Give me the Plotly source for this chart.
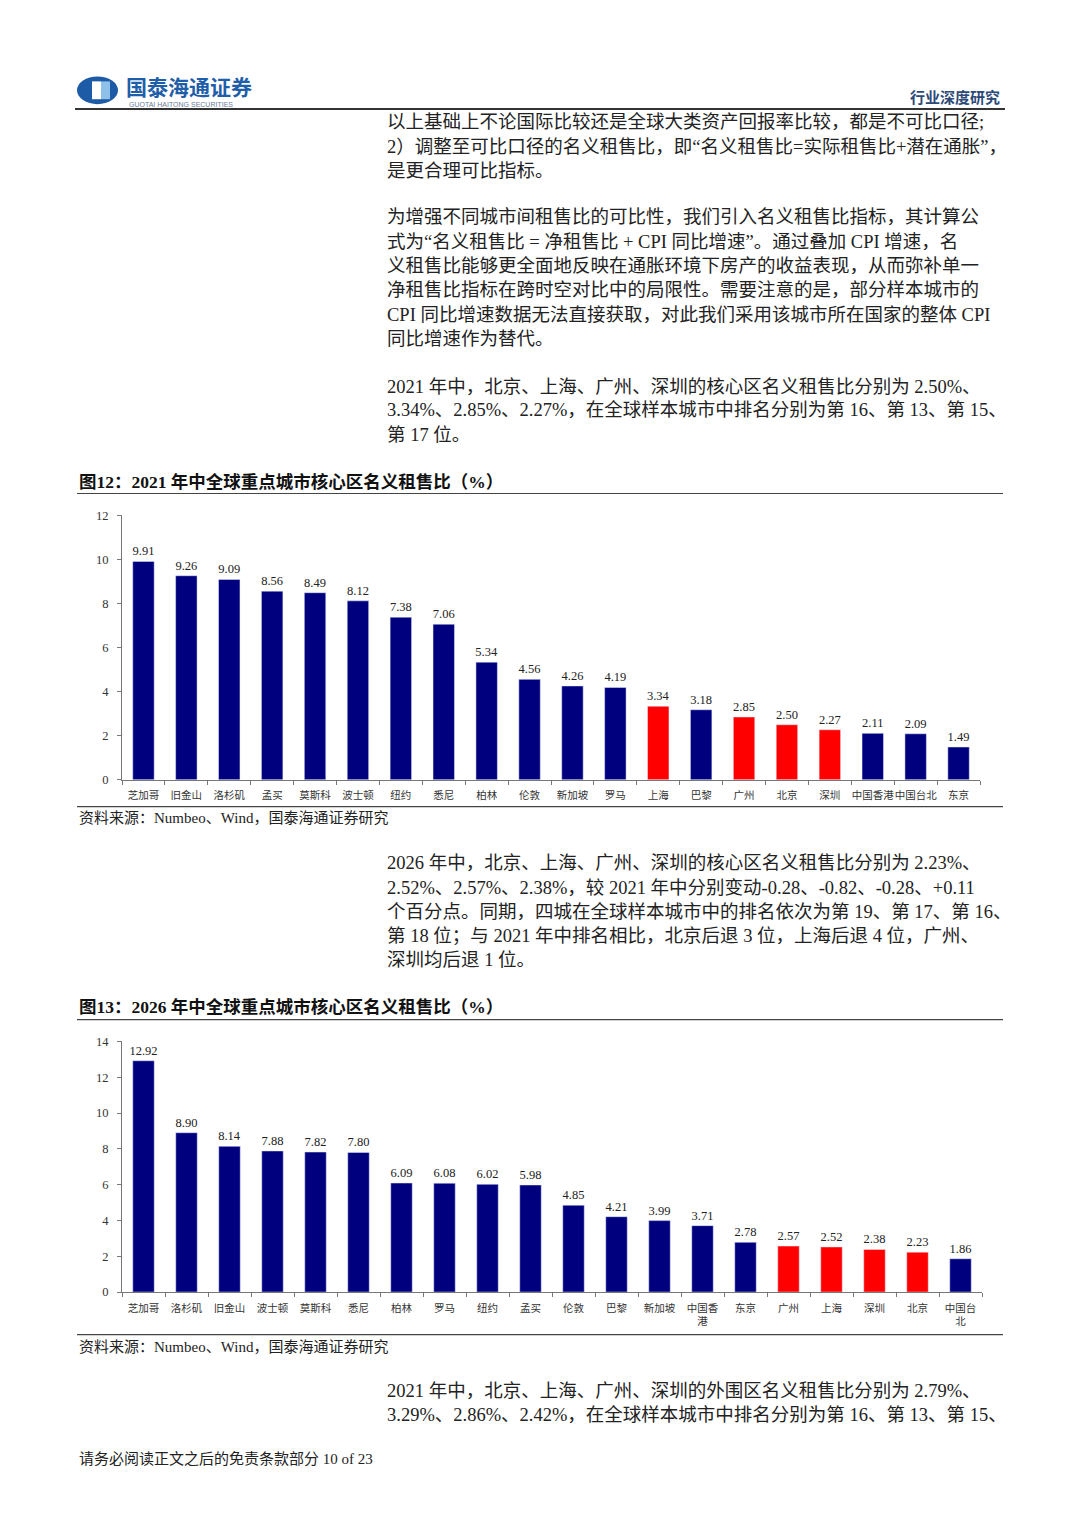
import plotly.graph_objects as go

# 图12: 2021 年中核心区名义租售比
cities_2021 = ["芝加哥", "旧金山", "洛杉矶", "孟买", "莫斯科", "波士顿", "纽约", "悉尼", "柏林", "伦敦",
               "新加坡", "罗马", "上海", "巴黎", "广州", "北京", "深圳", "中国香港", "中国台北", "东京"]
ratio_2021 = [9.91, 9.26, 9.09, 8.56, 8.49, 8.12, 7.38, 7.06, 5.34, 4.56,
              4.26, 4.19, 3.34, 3.18, 2.85, 2.50, 2.27, 2.11, 2.09, 1.49]

# 图13: 2026 年中核心区名义租售比
cities_2026 = ["芝加哥", "洛杉矶", "旧金山", "波士顿", "莫斯科", "悉尼", "柏林", "罗马", "纽约", "孟买",
               "伦敦", "巴黎", "新加坡", "中国香港", "东京", "广州", "上海", "深圳", "北京", "中国台北"]
labels_2026 = ["芝加哥", "洛杉矶", "旧金山", "波士顿", "莫斯科", "悉尼", "柏林", "罗马", "纽约", "孟买",
               "伦敦", "巴黎", "新加坡", "中国香<br>港", "东京", "广州", "上海", "深圳", "北京", "中国台<br>北"]
ratio_2026 = [12.92, 8.90, 8.14, 7.88, 7.82, 7.80, 6.09, 6.08, 6.02, 5.98,
              4.85, 4.21, 3.99, 3.71, 2.78, 2.57, 2.52, 2.38, 2.23, 1.86]

mainland = ["北京", "上海", "广州", "深圳"]
NAVY = "#00007f"
RED = "#ff0000"

# page is 1080x1527, browser body keeps an 8px margin -> figure is a bit smaller
OFF = 8
W, H = 1080 - 2 * OFF, 1527 - 2 * OFF
SERIF = "Liberation Serif, Noto Sans CJK SC"
CJK = "Noto Sans CJK SC, Liberation Serif"


def px(x):
    return (x - OFF) / W


def py(y):
    return 1 - (y - OFF) / H


fig = go.Figure()

fig.add_trace(go.Bar(
    x=cities_2021, y=ratio_2021, width=0.5,
    marker_color=[RED if c in mainland else NAVY for c in cities_2021],
    text=[f"{v:.2f}" for v in ratio_2021], textposition="outside", constraintext="none",
    textfont=dict(family=SERIF, size=12.5, color="#222"),
    cliponaxis=False, xaxis="x", yaxis="y", showlegend=False,
))
fig.add_trace(go.Bar(
    x=cities_2026, y=ratio_2026, width=0.5,
    marker_color=[RED if c in mainland else NAVY for c in cities_2026],
    text=[f"{v:.2f}" for v in ratio_2026], textposition="outside", constraintext="none",
    textfont=dict(family=SERIF, size=12.5, color="#222"),
    cliponaxis=False, xaxis="x2", yaxis="y2", showlegend=False,
))

axis_common = dict(showline=True, linecolor="#777", linewidth=1, ticks="outside",
                   tickcolor="#777", ticklen=4, showgrid=False, zeroline=False,
                   ticklabelstandoff=6)
yfont = dict(family=SERIF, size=12.5, color="#333")
xfont = dict(family=CJK, size=10.5, color="#333")

fig.update_layout(
    width=W, height=H, autosize=False,
    margin=dict(l=0, r=0, t=0, b=0),
    paper_bgcolor="white", plot_bgcolor="white",
    xaxis=dict(domain=[px(122), px(980)], anchor="y", tickson="boundaries", tickangle=0,
               tickfont=xfont, **axis_common),
    yaxis=dict(domain=[py(780), py(513)], anchor="x", range=[0, 12], dtick=2,
               tickfont=yfont, **axis_common),
    xaxis2=dict(domain=[px(122), px(982)], anchor="y2", tickson="boundaries", tickangle=0,
                tickmode="array", tickvals=cities_2026, ticktext=labels_2026,
                tickfont=xfont, **axis_common),
    yaxis2=dict(domain=[py(1297), py(1044)], anchor="x2", range=[0, 14], dtick=2,
                tickfont=yfont, **axis_common),
)

annotations = []


def txt(x, y, s, size=17, color="#222", family=SERIF, anchor="left"):
    annotations.append(dict(x=px(x), y=py(y), xref="paper", yref="paper", text=s, showarrow=False,
                            xanchor=anchor, yanchor="middle", borderpad=0,
                            font=dict(family=family, size=size, color=color)))


# header
txt(125, 80, "<b>国泰海通证券</b>", size=21, color="#1f5ea8", family=CJK)
txt(128, 98, "GUOTAI HAITONG SECURITIES", size=7, color="#6a7d99", family="Liberation Sans")
txt(1001, 90, "<b>行业深度研究</b>", size=15, color="#2d4a78", anchor="right", family=CJK)

body = [
    (116, "以上基础上不论国际比较还是全球大类资产回报率比较，都是不可比口径;"),
    (141, "2）调整至可比口径的名义租售比，即“名义租售比=实际租售比+潜在通胀”，"),
    (165, "是更合理可比指标。"),
    (212, "为增强不同城市间租售比的可比性，我们引入名义租售比指标，其计算公"),
    (237, "式为“名义租售比 = 净租售比 + CPI 同比增速”。通过叠加 CPI 增速，名"),
    (261, "义租售比能够更全面地反映在通胀环境下房产的收益表现，从而弥补单一"),
    (286, "净租售比指标在跨时空对比中的局限性。需要注意的是，部分样本城市的"),
    (311, "CPI 同比增速数据无法直接获取，对此我们采用该城市所在国家的整体 CPI"),
    (335, "同比增速作为替代。"),
    (383, "2021 年中，北京、上海、广州、深圳的核心区名义租售比分别为 2.50%、"),
    (407, "3.34%、2.85%、2.27%，在全球样本城市中排名分别为第 16、第 13、第 15、"),
    (432, "第 17 位。"),
    (864, "2026 年中，北京、上海、广州、深圳的核心区名义租售比分别为 2.23%、"),
    (889, "2.52%、2.57%、2.38%，较 2021 年中分别变动-0.28、-0.82、-0.28、+0.11"),
    (913, "个百分点。同期，四城在全球样本城市中的排名依次为第 19、第 17、第 16、"),
    (938, "第 18 位；与 2021 年中排名相比，北京后退 3 位，上海后退 4 位，广州、"),
    (962, "深圳均后退 1 位。"),
    (1397, "2021 年中，北京、上海、广州、深圳的外围区名义租售比分别为 2.79%、"),
    (1421, "3.29%、2.86%、2.42%，在全球样本城市中排名分别为第 16、第 13、第 15、"),
]
for y, s in body:
    txt(386, y, s, size=18.5)

txt(78, 479, "<b>图12：2021 年中全球重点城市核心区名义租售比（%）</b>", size=17.5, color="#111")
txt(78, 819, "资料来源：Numbeo、Wind，国泰海通证券研究", size=15, color="#222")
txt(78, 1009, "<b>图13：2026 年中全球重点城市核心区名义租售比（%）</b>", size=17.5, color="#111")
txt(78, 1352, "资料来源：Numbeo、Wind，国泰海通证券研究", size=15, color="#222")
txt(78, 1465, "请务必阅读正文之后的免责条款部分 10 of 23", size=15, color="#222")

fig.update_layout(annotations=annotations)

shapes = []


def hline(y, x0=77, x1=1003, w=1.2, color="#444"):
    shapes.append(dict(type="line", xref="paper", yref="paper", x0=px(x0), x1=px(x1),
                       y0=py(y), y1=py(y), line=dict(color=color, width=w)))


hline(103, 75, 1005, w=2, color="#333")
hline(491)
hline(807)
hline(1022)
hline(1340)

# logo
shapes.append(dict(type="circle", xref="paper", yref="paper", x0=px(77), x1=px(118), y0=py(98), y1=py(70),
                   fillcolor="#1d5ba6", line=dict(width=0)))
shapes.append(dict(type="rect", xref="paper", yref="paper", x0=px(92), x1=px(101), y0=py(93), y1=py(75),
                   fillcolor="white", line=dict(width=0)))
shapes.append(dict(type="rect", xref="paper", yref="paper", x0=px(101), x1=px(110), y0=py(93), y1=py(75),
                   fillcolor="#8fc0e8", line=dict(width=0)))
fig.update_layout(shapes=shapes)

fig.write_html("out.html")
